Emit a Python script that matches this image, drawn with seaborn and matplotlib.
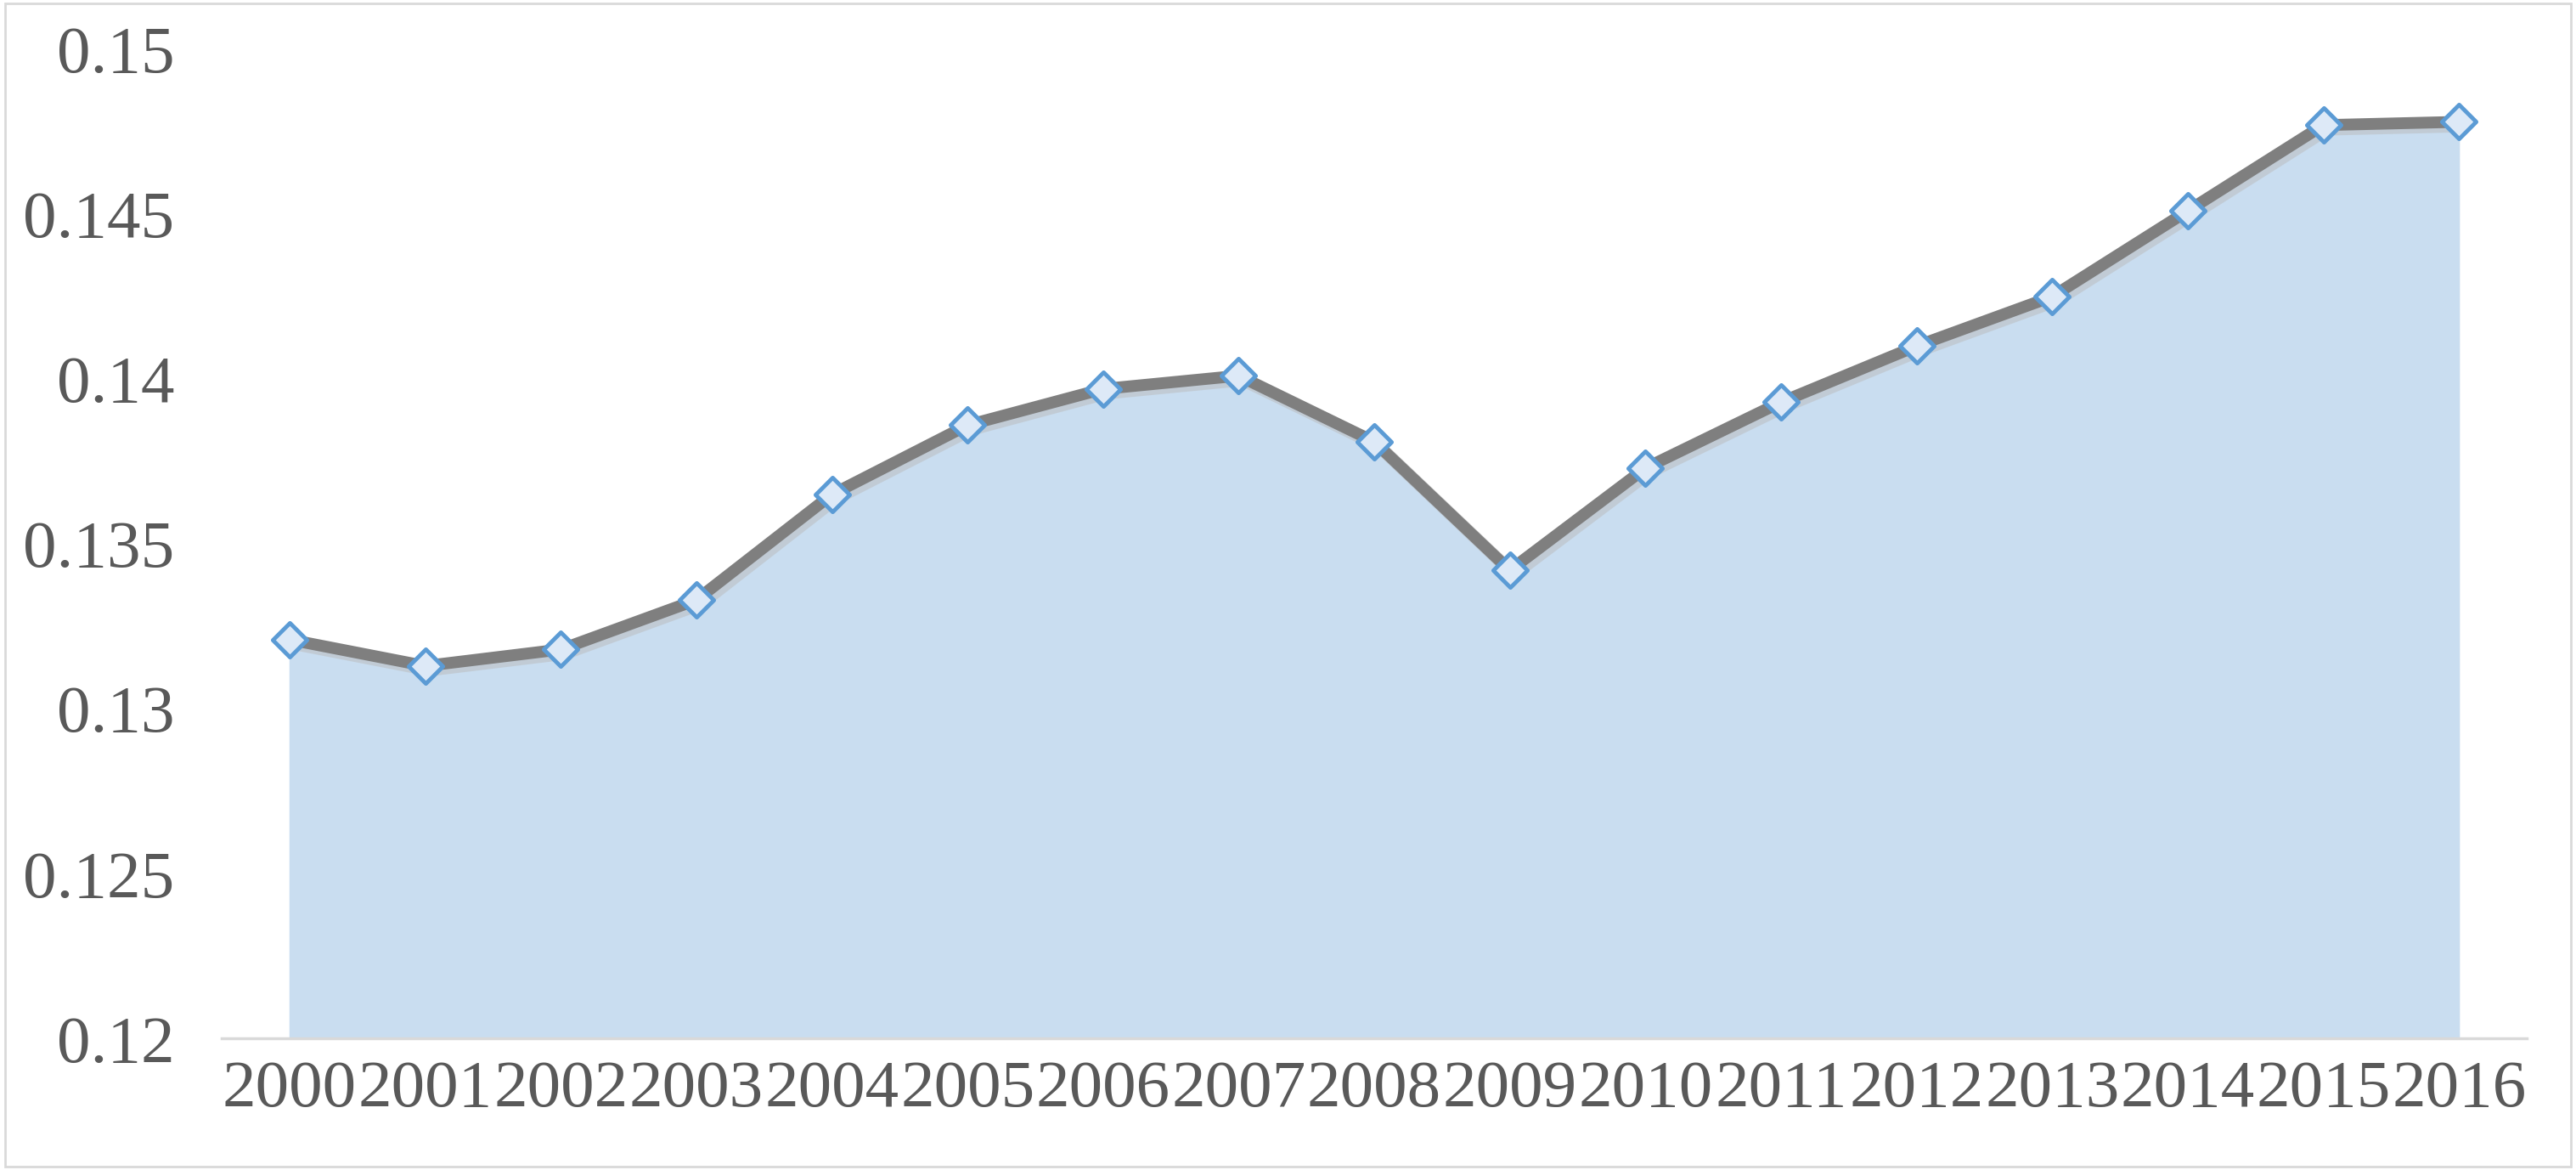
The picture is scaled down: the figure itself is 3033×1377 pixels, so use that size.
import matplotlib
matplotlib.use("Agg")
import matplotlib.pyplot as plt
import seaborn as sns
import pandas as pd

years = ["2000","2001","2002","2003","2004","2005","2006","2007","2008","2009","2010","2011","2012","2013","2014","2015","2016"]
values = [0.1321,0.1313,0.1318,0.1333,0.1365,0.1386,0.1397,0.1401,0.1381,0.1342,0.1373,0.1393,0.1410,0.1425,0.1451,0.1477,0.1478]
yticks = [0.12,0.125,0.13,0.135,0.14,0.145,0.15]
ytick_labels = ["0.12","0.125","0.13","0.135","0.14","0.145","0.15"]

sns.set_theme(style="white")
plt.rcParams['font.family'] = ['Liberation Serif', 'DejaVu Serif']

df = pd.DataFrame({"x": range(len(years)), "v": values})
fig = plt.figure(figsize=(30.33, 13.77), dpi=100)
fig.patches.append(plt.Rectangle((0.002, 0.003), 0.996, 0.994, transform=fig.transFigure,
                                 fill=False, edgecolor="#d9d9d9", linewidth=2))
ax = fig.add_axes([135/1568, 1-632/712, (1538-135)/1568, (632-30)/712])
ax.fill_between(df["x"], values, 0.12, color="#c9ddf0", zorder=1)
ax.plot(df["x"]+0.03, [v-0.00012 for v in values], color="#bbbbbb", lw=11, alpha=0.5, zorder=2)
sns.lineplot(data=df, x="x", y="v", ax=ax, color="#7f7f7f", lw=10, zorder=3)
ax.scatter(df["x"], values, marker="D", s=420, facecolor="#dde9f7", edgecolor="#5b9bd5",
           linewidth=3.5, zorder=4)
ax.set_xlim(-0.5, 16.5)
ax.set_ylim(0.12, 0.15)
ax.set_xticks(range(len(years)))
ax.set_xticklabels(years)
ax.set_yticks(yticks)
ax.set_yticklabels(ytick_labels)
ax.tick_params(axis="both", labelsize=57, colors="#595959", length=0, pad=18)
ax.tick_params(axis="y", pad=40)
ax.set_xlabel("")
ax.set_ylabel("")
for s in ["top", "right", "left"]:
    ax.spines[s].set_visible(False)
ax.spines["bottom"].set_color("#d9d9d9")
ax.spines["bottom"].set_linewidth(2.5)
ax.patch.set_alpha(0)
fig.savefig("out.png", dpi=100)
